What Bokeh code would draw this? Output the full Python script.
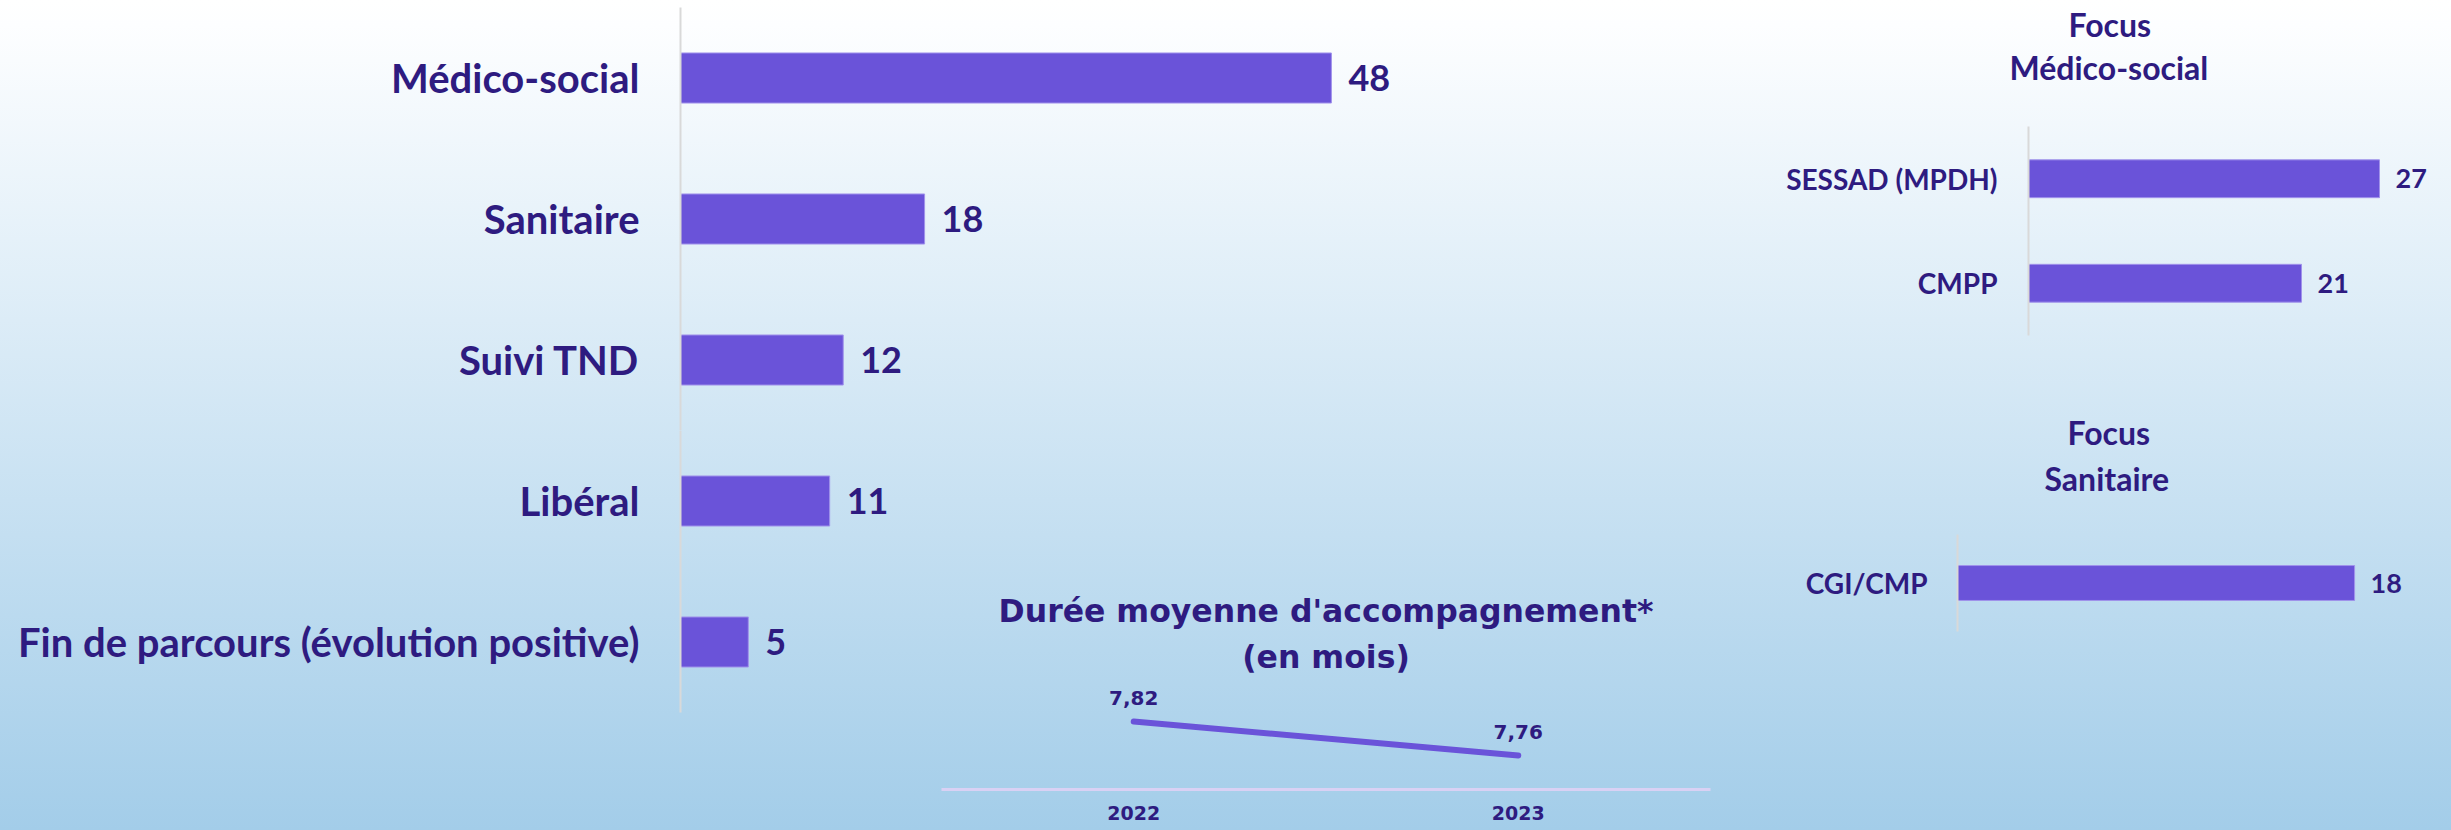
from bokeh.plotting import figure
from bokeh.layouts import row, column
from bokeh.models import ColumnDataSource, FactorRange, Range1d, Title, Spacer
from bokeh.core.properties import value
from bokeh.embed import file_html
from bokeh.resources import INLINE

# ---------------- data ----------------
main_categories = ["Médico-social", "Sanitaire", "Suivi TND", "Libéral",
                   "Fin de parcours (évolution positive)"]
main_values = [48, 18, 12, 11, 5]

ms_categories = ["SESSAD (MPDH)", "CMPP"]
ms_values = [27, 21]

san_categories = ["CGI/CMP"]
san_values = [18]

years = ["2022", "2023"]
duree = [7.82, 7.76]

# ---------------- style ----------------
FONT = "Lato"
LINE_FONT = "DejaVu Sans"
NAVY = "#2E1B80"
BAR = "#6A53D9"
BAR_EDGE = "#A092EB"
AXIS_GRAY = "#D9D9D9"
LAVENDER = "#D9D1F4"

MAIN_PX = 13.56      # pixels per unit, main chart
MS_PX = 13.0         # pixels per unit, focus médico-social
SAN_PX = 22.06       # pixels per unit, focus sanitaire


def base_fig(**kw):
    p = figure(output_backend="svg", toolbar_location=None, **kw)
    p.background_fill_color = None
    p.border_fill_color = None
    p.outline_line_color = None
    p.xgrid.visible = False
    p.ygrid.visible = False
    return p


def set_borders(p, left, right, top, bottom):
    p.min_border_left = left
    p.min_border_right = right
    p.min_border_top = top
    p.min_border_bottom = bottom


def style_cat_axis(ax, size, standoff):
    ax.axis_line_color = AXIS_GRAY
    ax.axis_line_width = 2
    ax.major_tick_line_color = None
    ax.minor_tick_line_color = None
    ax.major_tick_out = 0
    ax.major_tick_in = 0
    ax.major_label_standoff = standoff
    ax.major_label_text_font = FONT
    ax.major_label_text_font_style = "bold"
    ax.major_label_text_font_size = size
    ax.major_label_text_color = NAVY


def bar_chart(p, cats, vals, bar_h, lab_size, offset):
    src = ColumnDataSource(dict(cat=cats, val=vals, lab=[str(v) for v in vals]))
    p.hbar(y="cat", left=0, right="val", height=bar_h, source=src,
           fill_color=BAR, line_color=BAR_EDGE, line_width=1)
    p.text(x="val", y="cat", text="lab", source=src, x_offset=offset,
           text_align="left", text_baseline="middle",
           text_font=value(FONT), text_font_style="bold",
           text_font_size=lab_size, text_color=NAVY)


def title(text, size, standoff, align="center", offset=0, font=FONT, style="bold"):
    return Title(text=text, align=align, offset=offset, standoff=standoff,
                 text_font=font, text_font_size=size, text_font_style=style,
                 text_color=NAVY)


# ---------------- main chart (two stacked frames sharing one scale) ----------------
top_cats, bot_cats = main_categories[:3], main_categories[3:]
top_vals, bot_vals = main_values[:3], main_values[3:]

pA1 = base_fig(width=1745, height=430, x_axis_location=None,
               y_range=FactorRange(factors=list(reversed(top_cats))),
               x_range=Range1d(0, 1020 / MAIN_PX))
set_borders(pA1, 680, 45, 7, 0)
bar_chart(pA1, top_cats, top_vals, 0.355, "36px", 17)
style_cat_axis(pA1.yaxis[0], "40px", 41)

pA2 = base_fig(width=920, height=400, x_axis_location=None,
               y_range=FactorRange(factors=list(reversed(bot_cats))),
               x_range=Range1d(0, 240 / MAIN_PX))
set_borders(pA2, 680, 0, 0, 118)
bar_chart(pA2, bot_cats, bot_vals, 0.355, "36px", 17)
style_cat_axis(pA2.yaxis[0], "40px", 41)

# ---------------- line chart ----------------
pB = base_fig(width=825, height=258, y_axis_location=None,
              x_range=FactorRange(factors=years), y_range=Range1d(7.70, 7.8942))
set_borders(pB, 21, 35, 107, 41)
srcB = ColumnDataSource(dict(year=years, d=duree,
                             lab=[f"{v:.2f}".replace(".", ",") for v in duree]))
pB.line(x="year", y="d", source=srcB, line_width=6, line_color=BAR, line_cap="round")
pB.text(x="year", y="d", text="lab", source=srcB, y_offset=-24,
        text_align="center", text_baseline="alphabetic",
        text_font=value(LINE_FONT), text_font_style="bold", text_font_size="20px",
        text_color=NAVY)
axB = pB.xaxis[0]
axB.axis_line_color = LAVENDER
axB.axis_line_width = 3
axB.major_tick_line_color = None
axB.minor_tick_line_color = None
axB.major_tick_out = 0
axB.major_tick_in = 0
axB.major_label_standoff = 16
axB.major_label_text_font = LINE_FONT
axB.major_label_text_font_style = "bold"
axB.major_label_text_font_size = "19px"
axB.major_label_text_color = NAVY
pB.add_layout(title("(en mois)", "31.5px", 9, font=LINE_FONT), "above")
pB.add_layout(title("Durée moyenne d'accompagnement*", "31.5px", 7, font=LINE_FONT), "above")

# ---------------- focus médico-social ----------------
pC = base_fig(width=706, height=400, x_axis_location=None,
              y_range=FactorRange(factors=list(reversed(ms_categories))),
              x_range=Range1d(0, 412 / MS_PX))
set_borders(pC, 283, 11, 125, 65)
bar_chart(pC, ms_categories, ms_values, 0.362, "27px", 16)
style_cat_axis(pC.yaxis[0], "28px", 31)
pC.add_layout(title(" ", "1px", 37), "above")
pC.add_layout(title("Médico-social", "32px", 0, "left", -19), "above")
pC.add_layout(title("Focus", "32px", 4, "left", 40), "above")

# ---------------- focus sanitaire ----------------
pD = base_fig(width=706, height=430, x_axis_location=None,
              y_range=FactorRange(factors=list(reversed(san_categories))),
              x_range=Range1d(0, 483 / SAN_PX))
set_borders(pD, 212, 11, 134, 199)
bar_chart(pD, san_categories, san_values, 0.36, "27px", 16)
style_cat_axis(pD.yaxis[0], "28px", 30)
pD.add_layout(title(" ", "1px", 34), "above")
pD.add_layout(title("Sanitaire", "32px", 0, "left", 87), "above")
pD.add_layout(title("Focus", "32px", 10, "left", 110), "above")

left = column(pA1, row(pA2, column(Spacer(width=825, height=142), pB)))
right = column(row(pC), row(pD))
root = row(left, right,
           styles={"background": "linear-gradient(180deg, #ffffff 0%, #fdfeff 3%, #a3cde9 100%)"})

open("out.html", "w").write(file_html(root, INLINE))
